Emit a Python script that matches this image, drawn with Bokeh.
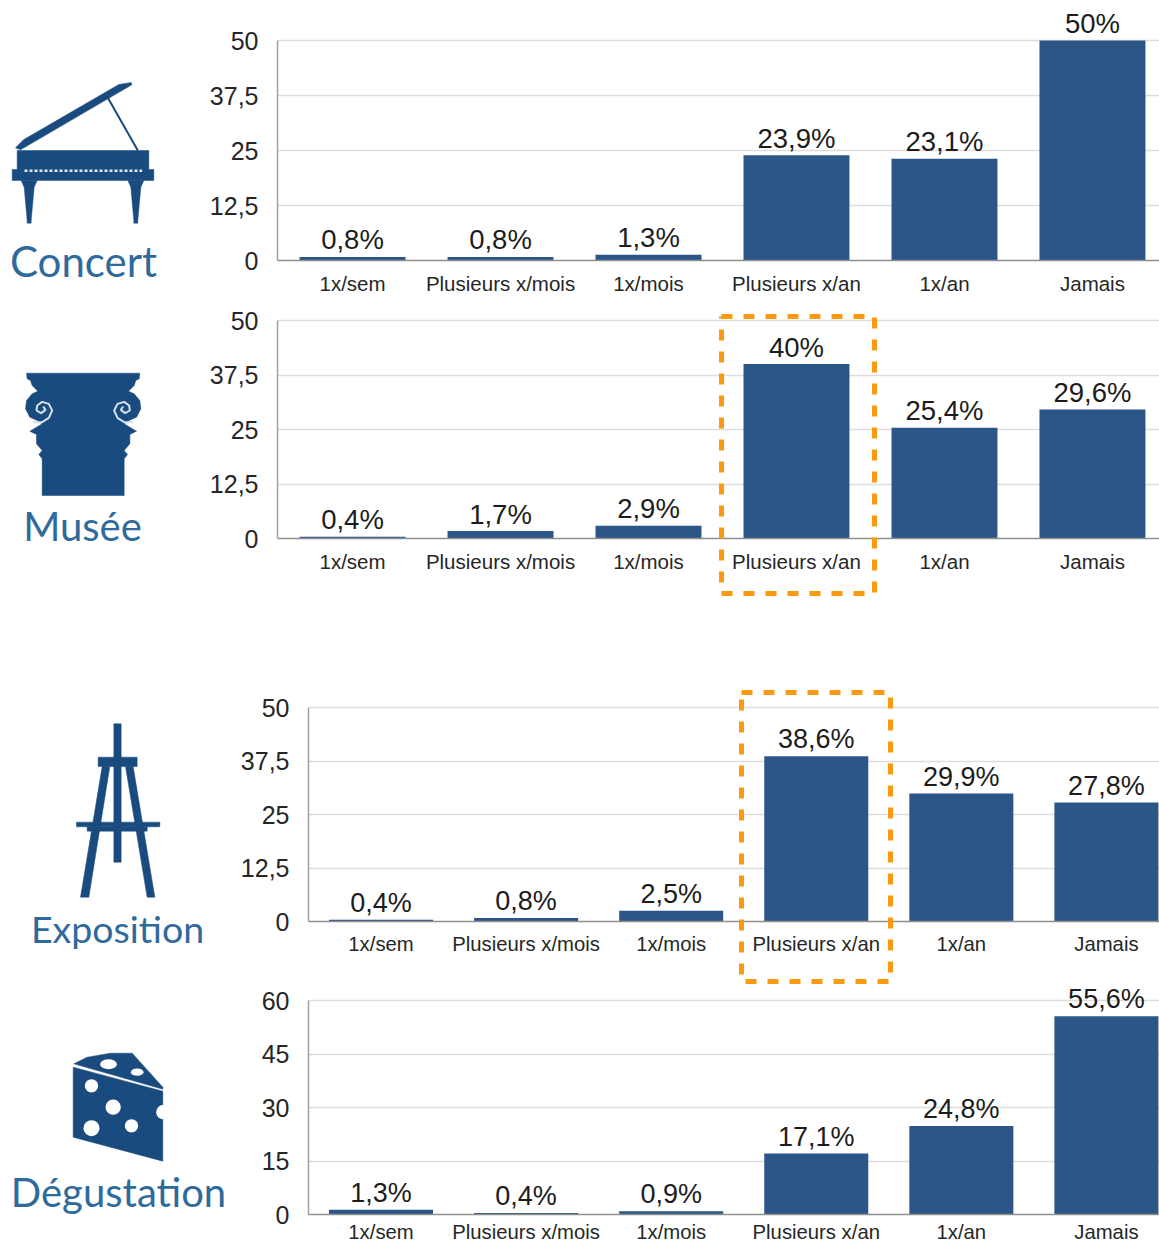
import numpy as np
from bokeh.plotting import figure
from bokeh.layouts import column, row
from bokeh.models import Range1d, FixedTicker, ColumnDataSource, LabelSet
from bokeh.core.properties import value
from bokeh.embed import file_html
from bokeh.resources import INLINE

categories = ["1x/sem", "Plusieurs x/mois", "1x/mois", "Plusieurs x/an", "1x/an", "Jamais"]
concert = [0.8, 0.8, 1.3, 23.9, 23.1, 50]
musee = [0.4, 1.7, 2.9, 40, 25.4, 29.6]
exposition = [0.4, 0.8, 2.5, 38.6, 29.9, 27.8]
degustation = [1.3, 0.4, 0.9, 17.1, 24.8, 55.6]
ticks_50 = [0, 12.5, 25, 37.5, 50]
ticks_60 = [0, 15, 30, 45, 60]

BAR = "#2c5687"
ICON = "#1a4b7e"
LABEL = "#2f6a9c"
ORANGE = "#fb9a0e"
FONT = "Liberation Sans"
LABEL_FONT = "Lato"


def chart(values, ticks, x0, x1, w, h, plot_h, bottom, left, bar_w, tick_size, val_size, cat_size, standoff=11):
    # the frame runs up to the figure's top edge so that labels above the last tick are not clipped
    p = figure(width=w, height=h, output_backend="svg", toolbar_location=None,
               x_range=Range1d(x0, x1), y_range=Range1d(0, ticks[-1] * (h - bottom) / plot_h),
               min_border_top=0, min_border_bottom=bottom, min_border_left=left, min_border_right=0)
    p.outline_line_color = None
    xs = list(range(len(categories)))
    p.vbar(x=xs, top=values, bottom=0, width=bar_w, color=BAR, line_color=None)
    ax = p.xaxis[0]
    ax.ticker = FixedTicker(ticks=xs)
    ax.major_label_overrides = dict(zip(xs, categories))
    ax.major_tick_out = 0
    ax.major_tick_in = 0
    ax.major_tick_line_color = None
    ax.minor_tick_line_color = None
    ax.axis_line_color = "#8f8f8f"
    ax.axis_line_width = 1.5
    ax.major_label_text_font = FONT
    ax.major_label_text_font_size = f"{cat_size}px"
    ax.major_label_text_color = "#262626"
    ax.major_label_standoff = standoff
    ay = p.yaxis[0]
    ay.ticker = FixedTicker(ticks=ticks)
    ay.bounds = (0, ticks[-1])
    ay.major_label_overrides = {t: f"{t:g}".replace(".", ",") for t in ticks}
    ay.major_tick_out = 0
    ay.major_tick_in = 0
    ay.major_tick_line_color = None
    ay.minor_tick_line_color = None
    ay.axis_line_color = "#a0a0a0"
    ay.axis_line_width = 1.5
    ay.major_label_text_font = FONT
    ay.major_label_text_font_size = f"{tick_size}px"
    ay.major_label_text_color = "#262626"
    ay.major_label_standoff = 19
    p.xgrid.visible = False
    p.ygrid.ticker = FixedTicker(ticks=ticks)
    p.ygrid.grid_line_color = "#dddddd"
    p.ygrid.grid_line_width = 1.5
    src = ColumnDataSource(dict(x=xs, y=values,
                                t=[f"{v:g}".replace(".", ",") + "%" for v in values]))
    p.add_layout(LabelSet(x="x", y="y", text="t", source=src, y_offset=17,
                          text_align="center", text_baseline="middle",
                          text_font=value(FONT), text_font_size=f"{val_size}px",
                          text_color="#1c1c1c"))
    return p


def canvas_fig(w, h, x0, x1, y0, y1):
    p = figure(width=w, height=h, output_backend="svg", toolbar_location=None,
               x_range=Range1d(x0, x1), y_range=Range1d(y1, y0),
               min_border=0, x_axis_location=None, y_axis_location=None)
    p.outline_line_color = None
    p.grid.visible = False
    return p


def z(ox, oy, pts):
    """Convert points read on a 3x crop to page pixels."""
    return [ox + a / 3 for a, _ in pts], [oy + b / 3 for _, b in pts]


def poly(p, ox, oy, pts, color=ICON):
    x, y = z(ox, oy, pts)
    p.patch(x, y, color=color, line_color=color, line_width=0.5)


def dots(p, ox, oy, items, color="white"):
    for cx, cy, w, h in items:
        p.ellipse(x=ox + cx / 3, y=oy + cy / 3, width=w / 3, height=h / 3, color=color, line_color=None)


# ----- top icons
top_icons = canvas_fig(200, 600, 0, 200, 0, 600)
O = (0, 70)
poly(top_icons, *O, [(45, 232), (70, 207), (355, 42), (392, 36), (394, 43), (60, 238)])
x, y = z(*O, [(322, 82), (412, 240)])
top_icons.line(x, y, color=ICON, line_width=2)
poly(top_icons, *O, [(50, 240), (445, 240), (445, 297), (460, 297), (460, 330), (35, 330), (35, 297), (50, 297)])
for c in (86, 406):
    poly(top_icons, *O, [(c - 24, 330), (c + 24, 330), (c + 15, 350), (c + 6, 450), (c + 6, 458),
                         (c - 6, 458), (c - 6, 450), (c - 15, 350)])
x, y = z(*O, [(72, 301), (425, 301)])
top_icons.line(x, y, color="#dfe8f2", line_width=2.5, line_dash="3 2")
top_icons.text(x=[83], y=[260], text=["Concert"], text_align="center", text_baseline="middle",
               text_font=value(LABEL_FONT), text_font_size="42px", text_color=LABEL)

O = (0, 360)
half = [(78, 38), (80, 55), (90, 60), (95, 75), (112, 92), (95, 100), (78, 120), (75, 145), (88, 170), (110, 180),
        (125, 190), (88, 212), (108, 222), (108, 250), (125, 270), (115, 282), (125, 295), (125, 405)]
poly(top_icons, *O, half + [(496 - a, b) for a, b in reversed(half)])
spiral = [(98, 185), (125, 185), (145, 172), (155, 150), (145, 130), (125, 124), (110, 135), (108, 150),
          (122, 158), (135, 148), (128, 138)]
for pts in (spiral, [(496 - a, b) for a, b in spiral]):
    x, y = z(*O, pts)
    top_icons.line(x, y, color="#d4e0ec", line_width=2)
top_icons.text(x=[82], y=[525], text=["Musée"], text_align="center", text_baseline="middle",
               text_font=value(LABEL_FONT), text_font_size="40px", text_color=LABEL)

# ----- bottom icons
bot_icons = canvas_fig(232, 645, 0, 232, 600, 1245)
O = (20, 710)
for r in [[(280, 40), (302, 40), (302, 455), (280, 455)],
          [(233, 140), (350, 140), (350, 168), (233, 168)],
          [(168, 335), (418, 335), (418, 349), (168, 349)],
          [(200, 349), (380, 349), (380, 362), (200, 362)],
          [(245, 168), (268, 168), (205, 560), (180, 560)],
          [(315, 168), (338, 168), (403, 560), (380, 560)]]:
    poly(bot_icons, *O, r)
bot_icons.text(x=[117], y=[928], text=["Exposition"], text_align="center", text_baseline="middle",
               text_font=value(LABEL_FONT), text_font_size="37.5px", text_color=LABEL)

O = (0, 1040)
poly(bot_icons, *O, [(220, 70), (260, 50), (330, 38), (395, 38), (487, 140), (487, 146)])
poly(bot_icons, *O, [(218, 80), (487, 152), (487, 362), (218, 290)])
dots(bot_icons, *O, [(324, 71, 50, 30), (410, 95, 38, 22), (273, 136, 40, 40), (338, 200, 46, 46),
                     (273, 263, 48, 48), (393, 256, 40, 40), (489, 215, 44, 44)])
bot_icons.text(x=[118], y=[1191], text=["Dégustation"], text_align="center", text_baseline="middle",
               text_font=value(LABEL_FONT), text_font_size="40px", text_color=LABEL)

# ----- charts
c1 = chart(concert, ticks_50, -0.507, 5.453, 959, 300, 220, 40, 77, 0.716, 25, 27.5, 20.5)
c2 = chart(musee, ticks_50, -0.507, 5.453, 959, 300, 218, 62, 77, 0.716, 25, 27.5, 20.5)
c3 = chart(exposition, ticks_50, -0.5, 5.366, 927, 384, 214, 63, 76, 0.717, 25, 27, 20.3)
c4 = chart(degustation, ticks_60, -0.5, 5.366, 927, 261, 214, 31, 76, 0.717, 25, 27, 20.3, standoff=6)

# ----- dashed highlight boxes, on a transparent figure laid over the whole page
over = canvas_fig(1159, 1245, 0, 1159, 0, 1245)
over.background_fill_alpha = 0
over.border_fill_alpha = 0
over.styles = {"position": "absolute", "top": "0", "left": "0", "pointer-events": "none"}
for l, r, t, b in [(721, 874, 316, 593), (741, 890, 692, 981)]:
    over.line([l, r, r, l, l], [t, t, b, b, t], color=ORANGE, line_width=5, line_dash="11 11")

page = column(row(top_icons, column(c1, c2, spacing=0), spacing=0),
              row(bot_icons, column(c3, c4, spacing=0), spacing=0),
              over, spacing=0)
open("out.html", "w").write(file_html(page, INLINE))
